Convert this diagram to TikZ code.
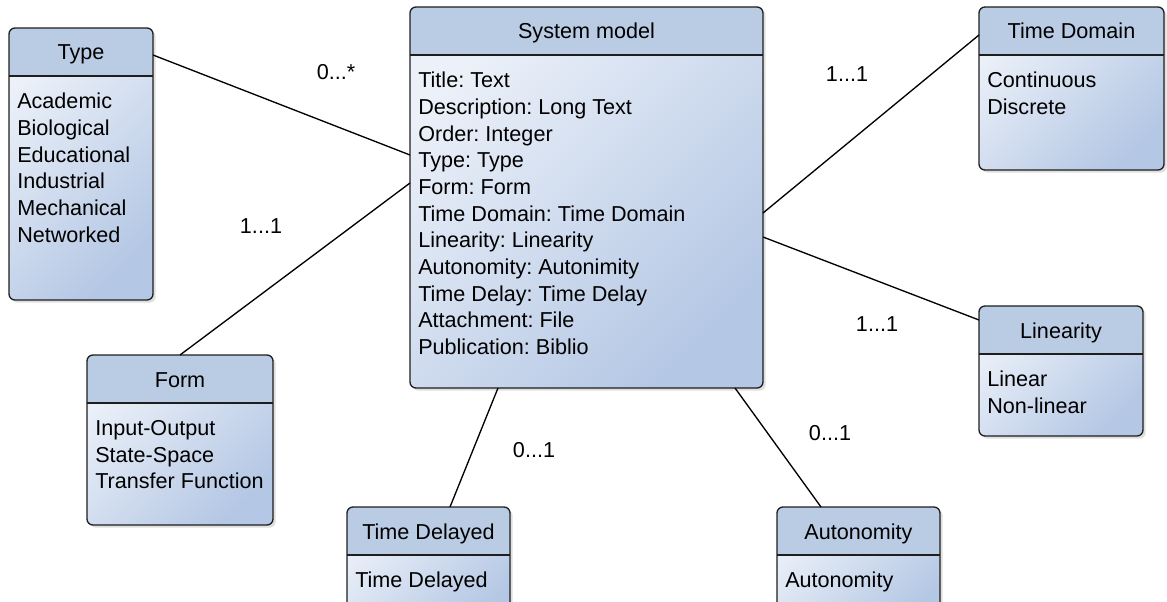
\documentclass[tikz,border=0pt]{standalone}
\usepackage{fontspec}
\setmainfont{Liberation Sans}
\usetikzlibrary{calc,shadows}
\definecolor{umlheadfill}{RGB}{186,203,228}
\definecolor{umlbodylight}{RGB}{236,241,249}
\definecolor{umlbodydark}{RGB}{180,199,228}
\definecolor{umlline}{RGB}{30,30,30}
\frenchspacing

\begin{document}
\begin{tikzpicture}[x=0.75pt,y=-0.75pt,
    font=\fontsize{16.2}{20}\selectfont,
    umlclass/.style={draw=umlline,line width=1pt,rounded corners=4.5pt,
        anchor=north west,inner sep=0pt,outer sep=0pt,
        top color=umlbodylight,bottom color=umlbodydark,shading angle=45,
        drop shadow={shadow xshift=2pt,shadow yshift=-2pt,opacity=0.25},
        path picture={
            \fill[umlheadfill,sharp corners] (path picture bounding box.north west)
                rectangle ([yshift=-36pt]path picture bounding box.north east);
            \draw[umlline,line width=1pt,sharp corners]
                ([yshift=-36pt]path picture bounding box.north west)
                --([yshift=-36pt]path picture bounding box.north east);}},
    umltitle/.style={anchor=base,inner sep=0pt},
    umlattr/.style={anchor=north west,align=left,inner sep=0pt},
    umlassoc/.style={draw=black,line width=1pt},
    umlmult/.style={inner sep=1pt}
]
\clip (0,0) rectangle (1167,602);
% classes
\node[umlclass,minimum width=108pt,minimum height=204pt] (type) at (9,28) {};
\node[umlclass,minimum width=264.75pt,minimum height=285.75pt] (sys) at (410,7) {};
\node[umlclass,minimum width=138.75pt,minimum height=122.25pt] (tdom) at (979,7) {};
\node[umlclass,minimum width=123pt,minimum height=97.5pt] (lin) at (979,306) {};
\node[umlclass,minimum width=139.5pt,minimum height=127.5pt] (form) at (87,355) {};
\node[umlclass,minimum width=122.25pt,minimum height=90pt] (tdel) at (347,507) {};
\node[umlclass,minimum width=122.25pt,minimum height=90pt] (aut) at (777,507) {};
% titles
\node[umltitle] (typetitle) at ($(type.north)+(0,32)$) {Type};
\node[umltitle] (systitle) at ($(sys.north)+(0,32)$) {System model};
\node[umltitle] (tdomtitle) at ($(tdom.north)+(0,32)$) {Time Domain};
\node[umltitle] (lintitle) at ($(lin.north)+(0,32)$) {Linearity};
\node[umltitle] (formtitle) at ($(form.north)+(0,32)$) {Form};
\node[umltitle] (tdeltitle) at ($(tdel.north)+(0,32)$) {Time Delayed};
\node[umltitle] (auttitle) at ($(aut.north)+(0,32)$) {Autonomity};
% attributes
\node[umlattr] (typeattr) at ($(type.north west)+(8,65)$)
    {Academic\\Biological\\Educational\\Industrial\\Mechanical\\Networked};
\node[umlattr] (sysattr) at ($(sys.north west)+(8,65)$)
    {Title: Text\\Description: Long Text\\Order: Integer\\Type: Type\\Form: Form\\
     Time Domain: Time Domain\\Linearity: Linearity\\Autonomity: Autonimity\\
     Time Delay: Time Delay\\Attachment: File\\Publication: Biblio};
\node[umlattr] (tdomattr) at ($(tdom.north west)+(8,65)$) {Continuous\\Discrete};
\node[umlattr] (linattr) at ($(lin.north west)+(8,65)$) {Linear\\Non-linear};
\node[umlattr] (formattr) at ($(form.north west)+(8,65)$)
    {Input-Output\\State-Space\\Transfer Function};
\node[umlattr] (tdelattr) at ($(tdel.north west)+(8,65)$) {Time Delayed};
\node[umlattr] (autattr) at ($(aut.north west)+(8,65)$) {Autonomity};
% associations
\draw[umlassoc] ($(type.north east)+(0,27)$)--($(sys.north west)+(0,148)$);
\draw[umlassoc] (form.north)--($(sys.north west)+(0,176)$);
\draw[umlassoc] ($(tdom.north west)+(0,28)$)--($(sys.north east)+(0,206)$);
\draw[umlassoc] ($(lin.north west)+(0,14)$)--($(sys.north east)+(0,230)$);
\draw[umlassoc] ($(tdel.north west)+(103,0)$)--($(sys.south west)+(88,0)$);
\draw[umlassoc] ($(aut.north west)+(44,0)$)--($(sys.south west)+(325,0)$);
% multiplicities
\node[umlmult] (typemult) at (336,72) {0...*};
\node[umlmult] (formmult) at (261,226) {1...1};
\node[umlmult] (tdommult) at (847,74) {1...1};
\node[umlmult] (linmult) at (877,324) {1...1};
\node[umlmult] (tdelmult) at (534,450) {0...1};
\node[umlmult] (autmult) at (830,433) {0...1};
\end{tikzpicture}
\end{document}
